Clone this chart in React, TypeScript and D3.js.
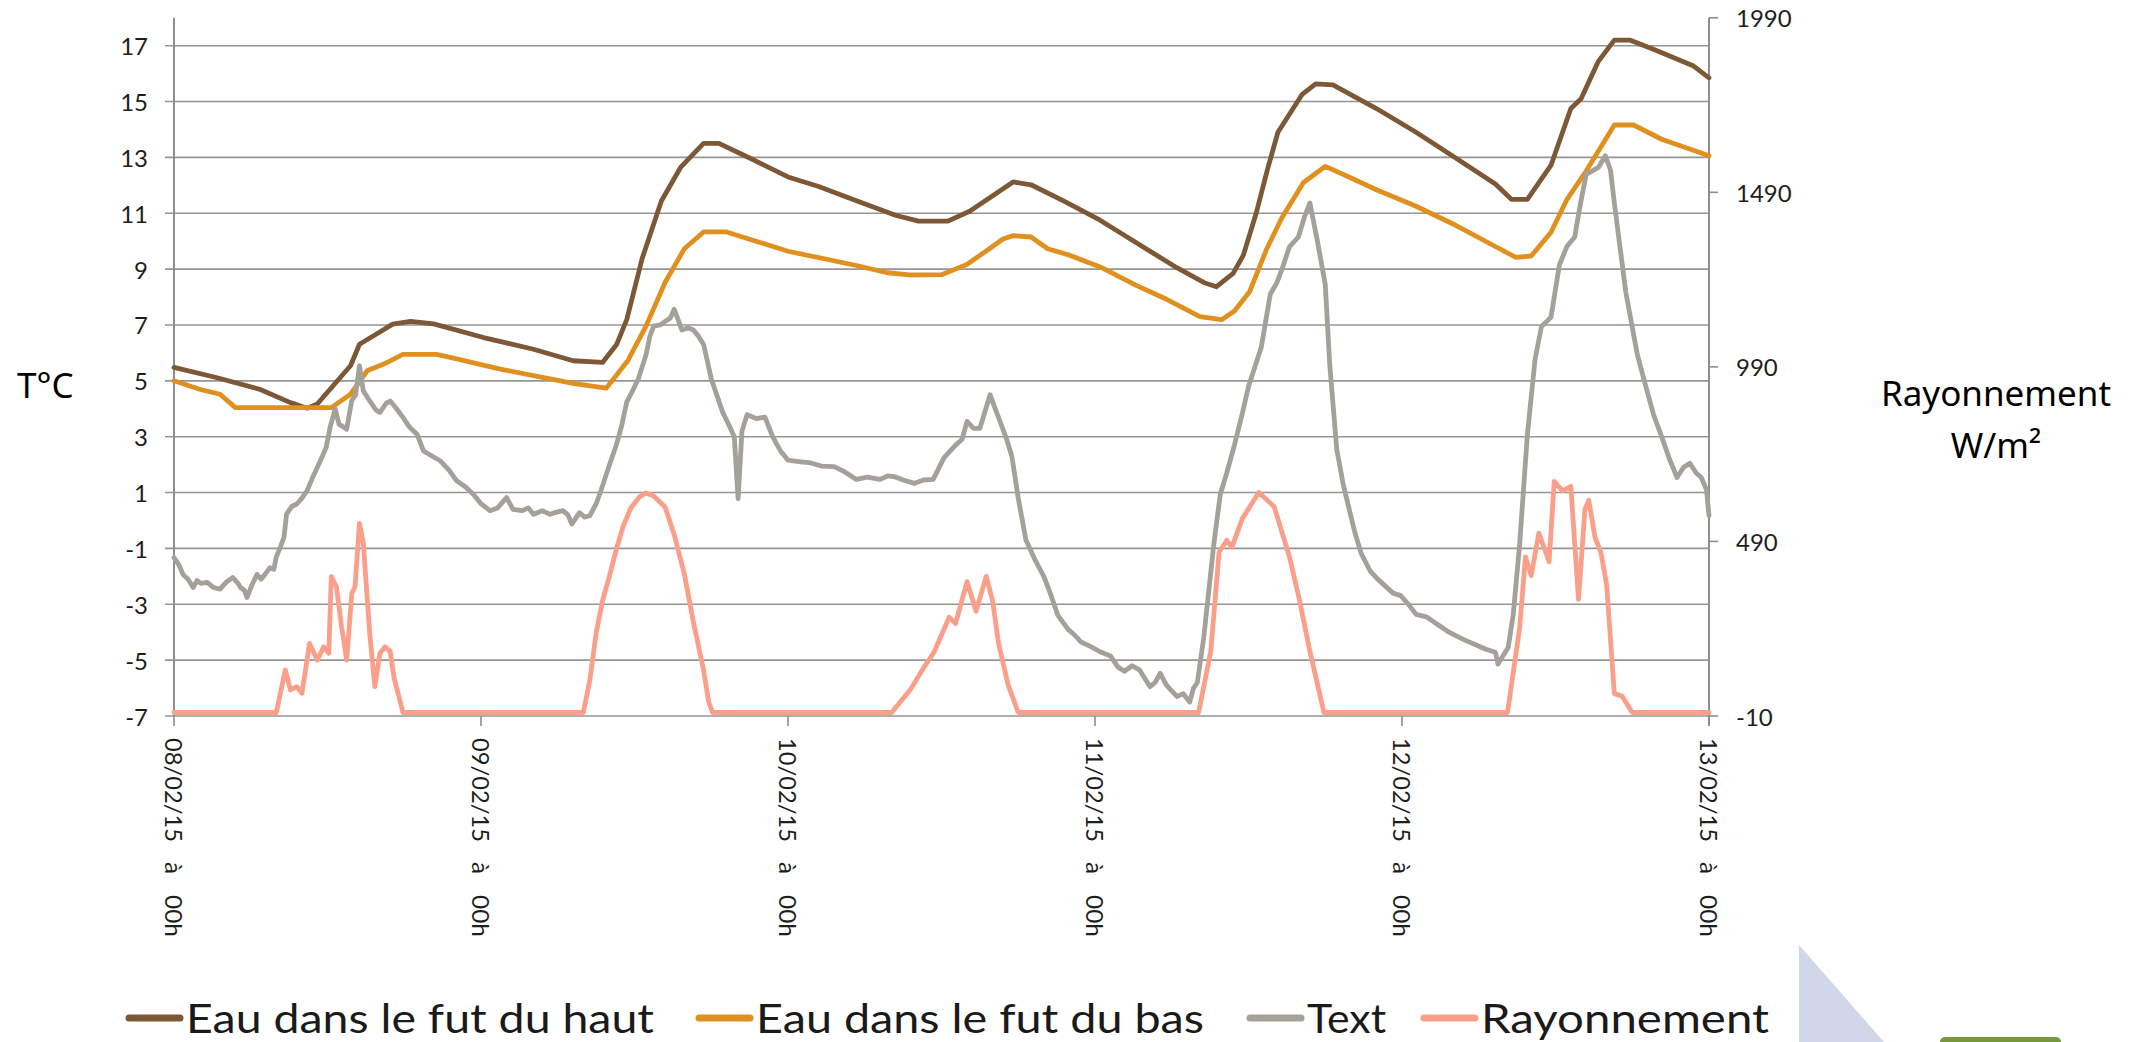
import React from 'react';
import * as d3 from 'd3';

// hours since 08/02/15 00h, value
const eauHaut: [number, number][] = [
  [0, 5.48], [3.3, 5.12], [6.7, 4.7], [9.1, 4.22], [10.4, 4.02], [11.2, 4.17], [12.2, 4.7],
  [13.8, 5.54], [14.5, 6.31], [15.8, 6.67], [17.1, 7.03], [18.5, 7.13], [20.3, 7.04],
  [24.2, 6.55], [28.1, 6.13], [31.2, 5.72], [33.5, 5.66], [34.6, 6.3], [35.4, 7.2],
  [36.6, 9.38], [38.1, 11.44], [39.6, 12.64], [41.4, 13.5], [42.6, 13.5], [45, 12.98],
  [48, 12.3], [50.4, 11.96], [53.4, 11.44], [56.4, 10.93], [58.2, 10.72], [60.5, 10.72],
  [62.2, 11.07], [63.8, 11.56], [65.6, 12.12], [67, 12.02], [69.5, 11.45], [72.4, 10.75],
  [75.2, 9.95], [78.4, 9.05], [80.6, 8.5], [81.5, 8.37], [82.8, 8.85], [83.6, 9.5],
  [84.6, 11.0], [85.5, 12.6], [86.3, 13.9], [88.2, 15.26], [89.25, 15.63], [90.6, 15.6],
  [94, 14.75], [97.1, 13.9], [100.2, 12.98], [103.3, 12.05], [104.55, 11.5], [105.8, 11.5],
  [107.65, 12.72], [109.2, 14.75], [110, 15.1], [111.35, 16.44], [112.6, 17.2], [113.8, 17.2],
  [115.7, 16.86], [118.8, 16.27], [120, 15.85],
];

const eauBas: [number, number][] = [
  [0, 5.0], [2, 4.7], [3.6, 4.52], [4.8, 4.04], [12.3, 4.04], [13.8, 4.52], [15.1, 5.36],
  [16.4, 5.6], [17.9, 5.95], [20.5, 5.95], [21.6, 5.84], [25.5, 5.42], [29.4, 5.07],
  [31.3, 4.9], [33.8, 4.74], [35.5, 5.74], [36.9, 6.96], [38.4, 8.53], [39.9, 9.73],
  [41.4, 10.33], [43.2, 10.33], [45, 10.07], [48, 9.64], [53.35, 9.13], [55.75, 8.87],
  [57.5, 8.79], [60, 8.8], [62, 9.17], [63.8, 9.75], [64.8, 10.08], [65.6, 10.2], [67, 10.15],
  [68.3, 9.73], [70, 9.5], [72.4, 9.08], [75.3, 8.4], [77.6, 7.92], [80.2, 7.3], [81.9, 7.19],
  [82.9, 7.5], [84.1, 8.2], [85.4, 9.7], [86.6, 10.83], [88.3, 12.1], [90, 12.68],
  [91.6, 12.35], [94, 11.84], [97.1, 11.25], [100.2, 10.57], [103.3, 9.81], [104.9, 9.42],
  [106.1, 9.47], [107.65, 10.32], [108.9, 11.5], [110.4, 12.51], [112.6, 14.16],
  [114.1, 14.16], [116.3, 13.65], [120, 13.06],
];

const tExt: [number, number][] = [
  [0, -1.33], [0.4, -1.6], [0.7, -1.93], [1.1, -2.1], [1.5, -2.4], [1.8, -2.15], [2.1, -2.25],
  [2.6, -2.22], [3.1, -2.4], [3.6, -2.46], [4.1, -2.2], [4.6, -2.04], [5.0, -2.25], [5.2, -2.4],
  [5.5, -2.5], [5.7, -2.76], [6.1, -2.3], [6.5, -1.93], [6.8, -2.1], [7.0, -2.0], [7.5, -1.69],
  [7.8, -1.75], [8.0, -1.3], [8.3, -0.97], [8.6, -0.6], [8.8, 0.23], [9.2, 0.5], [9.6, 0.59],
  [10.0, 0.8], [10.4, 1.06], [10.8, 1.5], [11.2, 1.9], [11.6, 2.3], [11.9, 2.62], [12.2, 3.33],
  [12.6, 4.0], [12.9, 3.45], [13.5, 3.27], [13.9, 4.3], [14.2, 4.5], [14.5, 5.54], [14.8, 4.64],
  [15.3, 4.28], [15.8, 3.95], [16.1, 3.87], [16.6, 4.2], [16.9, 4.28], [17.4, 4.0], [17.9, 3.69],
  [18.4, 3.35], [19.0, 3.09], [19.5, 2.49], [20.2, 2.3], [20.8, 2.14], [21.5, 1.8], [22.1, 1.42],
  [22.8, 1.2], [23.4, 0.94], [24.0, 0.6], [24.7, 0.35], [25.3, 0.45], [26.0, 0.82], [26.5, 0.4],
  [27.2, 0.35], [27.7, 0.45], [28.1, 0.22], [28.8, 0.35], [29.4, 0.22], [29.9, 0.3],
  [30.4, 0.35], [30.8, 0.2], [31.1, -0.13], [31.7, 0.28], [32.1, 0.12], [32.5, 0.17],
  [33.0, 0.59], [33.4, 1.1], [33.8, 1.66], [34.2, 2.2], [34.6, 2.73], [35.0, 3.4], [35.4, 4.25],
  [35.8, 4.6], [36.3, 5.07], [36.9, 5.93], [37.2, 6.6], [37.5, 6.96], [38.0, 7.0], [38.4, 7.13],
  [38.8, 7.25], [39.1, 7.56], [39.4, 7.2], [39.7, 6.82], [40.2, 6.9], [40.6, 6.82], [41.0, 6.6],
  [41.4, 6.3], [41.7, 5.7], [42, 5.07], [42.5, 4.4], [42.9, 3.87], [43.4, 3.4], [43.8, 3.0],
  [44.1, 0.78], [44.4, 3.2], [44.8, 3.79], [45.5, 3.65], [46.2, 3.7], [46.8, 3.0], [47.4, 2.5],
  [48, 2.16], [49.0, 2.1], [49.8, 2.06], [50.6, 1.95], [51.6, 1.93], [52.4, 1.75],
  [53.35, 1.47], [54.2, 1.55], [55.2, 1.47], [55.8, 1.6], [56.4, 1.56], [57.0, 1.45],
  [57.9, 1.33], [58.6, 1.45], [59.35, 1.47], [60.2, 2.25], [61.1, 2.7], [61.6, 2.9],
  [62.0, 3.55], [62.5, 3.3], [63.0, 3.3], [63.4, 3.9], [63.8, 4.5], [64.2, 4.0], [64.7, 3.4],
  [65.1, 2.9], [65.5, 2.3], [66.0, 0.8], [66.6, -0.7], [67.3, -1.4], [68.0, -2.0], [68.5, -2.6],
  [69.1, -3.4], [69.9, -3.9], [70.4, -4.1], [70.9, -4.35], [71.6, -4.5], [72.4, -4.7],
  [73.2, -4.85], [73.8, -5.25], [74.3, -5.4], [74.9, -5.2], [75.5, -5.36], [76.3, -5.95],
  [76.7, -5.8], [77.1, -5.47], [77.6, -5.9], [78.0, -6.1], [78.4, -6.3], [78.9, -6.2],
  [79.4, -6.5], [79.7, -6.0], [80.0, -5.8], [80.5, -4.2], [81.3, -0.8], [81.8, 0.95],
  [82.3, 1.7], [82.9, 2.7], [83.5, 3.8], [84.0, 4.8], [84.5, 5.5], [85.0, 6.2], [85.7, 8.1],
  [86.2, 8.5], [86.6, 8.97], [87.2, 9.8], [87.9, 10.15], [88.4, 10.9], [88.8, 11.37],
  [89.4, 9.97], [90.0, 8.45], [90.35, 5.59], [90.9, 2.55], [91.4, 1.3], [91.9, 0.35],
  [92.3, -0.4], [92.8, -1.17], [93.5, -1.8], [94.1, -2.1], [94.7, -2.35], [95.3, -2.6],
  [95.9, -2.69], [96.5, -3.0], [97.1, -3.36], [97.9, -3.45], [98.7, -3.7], [99.5, -3.95],
  [100.2, -4.12], [101.0, -4.3], [101.8, -4.46], [102.5, -4.6], [103.3, -4.72], [103.5, -5.14],
  [104.3, -4.55], [104.7, -3.36], [105.2, -0.83], [105.8, 3.06], [106.4, 5.76], [106.9, 6.94],
  [107.65, 7.28], [108.3, 9.14], [108.9, 9.82], [109.5, 10.15], [109.96, 11.37],
  [110.4, 12.39], [111.35, 12.64], [111.9, 13.06], [112.3, 12.55], [112.6, 11.37],
  [113.5, 8.16], [114.4, 5.94], [115.0, 4.9], [115.7, 3.74], [116.3, 3.0], [116.9, 2.21],
  [117.5, 1.54], [118.0, 1.9], [118.5, 2.05], [119.0, 1.7], [119.4, 1.54], [119.8, 1.1],
  [120, 0.18],
];

const rayonnement: [number, number][] = [
  [0, 0], [8.0, 0], [8.7, 122], [9.1, 65], [9.6, 74], [10.0, 55], [10.6, 198], [11.2, 150],
  [11.7, 188], [12.1, 170], [12.3, 389], [12.7, 360], [13.1, 246], [13.5, 150], [13.9, 341],
  [14.15, 360], [14.5, 542], [14.8, 485], [15.3, 227], [15.7, 74], [16.1, 170], [16.5, 188],
  [16.9, 175], [17.2, 100], [17.9, 0], [32.0, 0], [32.5, 90], [33.0, 227], [33.5, 320],
  [34.1, 399], [34.6, 470], [35.1, 532], [35.7, 585], [36.4, 618], [36.9, 629], [37.5, 620],
  [38.4, 588], [39.1, 510], [39.9, 396], [40.6, 260], [41.4, 122], [41.8, 30], [42.1, 0],
  [56.1, 0], [57.6, 67], [58.5, 122], [59.4, 172], [60.6, 273], [61.1, 255], [62.0, 375],
  [62.7, 290], [63.5, 390], [64.0, 319], [64.45, 200], [65.2, 80], [66.0, 0], [80.1, 0],
  [81.05, 175], [81.7, 459], [82.3, 493], [82.7, 473], [83.5, 554], [84.8, 630], [86.0, 590],
  [87.2, 446], [88.0, 320], [88.8, 175], [89.9, 0], [104.25, 0], [105.2, 243], [105.65, 446],
  [106.1, 392], [106.7, 514], [107.5, 432], [107.9, 662], [108.55, 635], [109.2, 648],
  [109.8, 324], [110.3, 581], [110.6, 608], [111.1, 500], [111.55, 459], [112.0, 365],
  [112.6, 54], [113.2, 47], [114.0, 0], [120, 0],
];

const dayLabels = ['08/02/15', '09/02/15', '10/02/15', '11/02/15', '12/02/15', '13/02/15'];
const dayHours = [0, 24, 48, 72, 96, 120];
const leftTicks = [-7, -5, -3, -1, 1, 3, 5, 7, 9, 11, 13, 15, 17];
const rightTicks = [-10, 490, 990, 1490, 1990];

const legendItems = [
  { label: 'Eau dans le fut du haut', color: '#7d5836', x: 126, len: 468 },
  { label: 'Eau dans le fut du bas', color: '#e0901f', x: 696, len: 448 },
  { label: 'Text', color: '#a3a19a', x: 1247, len: 79 },
  { label: 'Rayonnement', color: '#fa9f8a', x: 1421, len: 288 },
];

const W = 2146;
const H = 1042;
const plotLeft = 174;
const plotRight = 1709;
const plotBottom = 716;
const plotTop = 17.75;

const axisFont = 'Lato, "DejaVu Sans", sans-serif';
const titleFont = '"Noto Sans", "Open Sans", sans-serif';

export default function App() {
  const x = d3.scaleLinear().domain([0, 120]).range([plotLeft, plotRight]);
  const yT = d3.scaleLinear().domain([-7, 18]).range([plotBottom, plotTop]);
  const yR = d3.scaleLinear().domain([-10, 1990]).range([plotBottom, plotTop]);

  const lineT = d3.line<[number, number]>().x(d => x(d[0])).y(d => yT(d[1]));
  const lineR = d3.line<[number, number]>().x(d => x(d[0])).y(d => yR(d[1]));

  const series = [
    { d: lineT(eauHaut), color: '#7d5836' },
    { d: lineT(eauBas), color: '#e0901f' },
    { d: lineT(tExt), color: '#a3a19a' },
    { d: lineR(rayonnement), color: '#fa9f8a' },
  ];

  return (
    <svg width={W} height={H} style={{ position: 'absolute', left: 0, top: 0, background: '#fff' }}>
      <rect x={0} y={0} width={W} height={H} fill="#fff" />
      {/* gridlines + left ticks */}
      {leftTicks.map(t => (
        <g key={'g' + t}>
          <line x1={165} x2={plotRight} y1={yT(t)} y2={yT(t)} stroke="#959595" strokeWidth={1.6} />
          <text x={148} y={yT(t)} textAnchor="end" dominantBaseline="central"
            fontFamily={axisFont} fontSize={24} fill="#1e1e1e">{t}</text>
        </g>
      ))}
      <line x1={plotLeft} x2={plotLeft} y1={plotTop} y2={plotBottom} stroke="#8e8e8e" strokeWidth={2} />
      <line x1={plotRight} x2={plotRight} y1={plotTop} y2={plotBottom + 10} stroke="#8e8e8e" strokeWidth={2} />
      {rightTicks.map(t => (
        <g key={'r' + t}>
          <line x1={plotRight} x2={plotRight + 9} y1={yR(t)} y2={yR(t)} stroke="#8e8e8e" strokeWidth={1.6} />
          <text x={1736} y={yR(t)} dominantBaseline="central"
            fontFamily={axisFont} fontSize={24} fill="#1e1e1e">{t}</text>
        </g>
      ))}
      {/* x axis ticks and rotated labels */}
      {dayHours.map((h, i) => {
        const px = x(h);
        return (
          <g key={'x' + h}>
            <line x1={px} x2={px} y1={plotBottom} y2={plotBottom + 10} stroke="#8e8e8e" strokeWidth={1.6} />
            <g transform={`translate(${px},738) rotate(90)`} fontFamily={axisFont} fontSize={24} fill="#1e1e1e">
              <text x={0} y={0} dominantBaseline="central" textLength={104} lengthAdjust="spacingAndGlyphs">{dayLabels[i]}</text>
              <text x={124} y={0} dominantBaseline="central">à</text>
              <text x={157} y={0} dominantBaseline="central" textLength={42} lengthAdjust="spacingAndGlyphs">00h</text>
            </g>
          </g>
        );
      })}
      {/* series */}
      {series.map((s, i) => (
        <path key={'s' + i} d={s.d || ''} fill="none" stroke={s.color} strokeWidth={4.8}
          strokeLinejoin="round" strokeLinecap="round" />
      ))}
      {/* axis titles */}
      <text x={17} y={398} fontFamily={titleFont} fontSize={35} fill="#000">T°C</text>
      <text x={1996} y={406} textAnchor="middle" fontFamily={titleFont} fontSize={35} fill="#000">Rayonnement</text>
      <text x={1996} y={458} textAnchor="middle" fontFamily={titleFont} fontSize={35} fill="#000">W/m²</text>
      {/* legend */}
      {legendItems.map(it => (
        <g key={it.label}>
          <line x1={it.x + 3} x2={it.x + 54} y1={1018} y2={1018} stroke={it.color} strokeWidth={7} strokeLinecap="round" />
          <text x={it.x + 60} y={1033} fontFamily={axisFont} fontSize={40} fill="#1a1a1a"
            textLength={it.len} lengthAdjust="spacingAndGlyphs">{it.label}</text>
        </g>
      ))}
      {/* slide decorations */}
      <polygon points="1799,945 1884,1042 1799,1042" fill="#cfd7e9" />
      <rect x={1940} y={1037} width={121} height={12} rx={5} fill="#76973b" />
    </svg>
  );
}
